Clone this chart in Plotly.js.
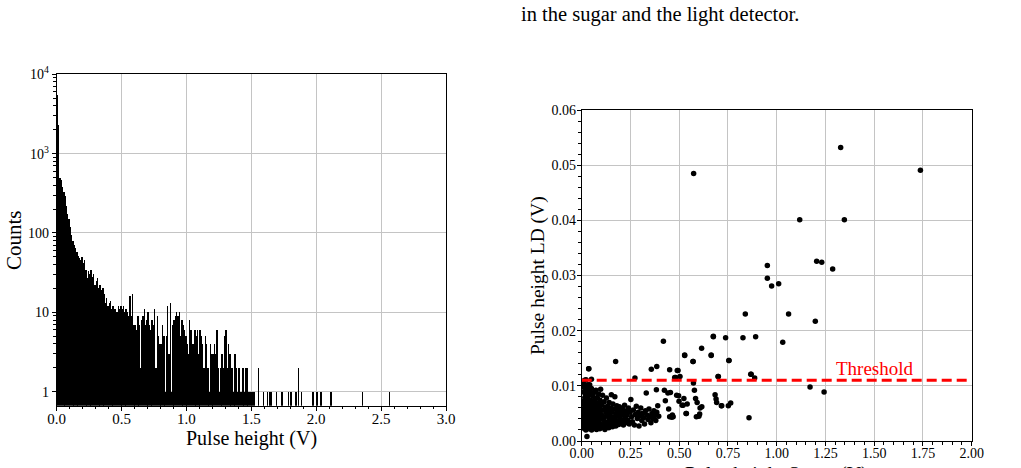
<!DOCTYPE html>
<html>
<head>
<meta charset="utf-8">
<script src="https://cdn.plot.ly/plotly-3.0.1.min.js"></script>
<style>
  html, body { margin: 0; padding: 0; background: #fff; }
  #chart { width: 1021px; height: 468px; }
</style>
</head>
<body>
<div id="chart"></div>
<script>
// ---- Pulse-height spectrum (left panel) ----
// Counts per 0.01 V bin, starting at 0 V
const binWidth = 0.01;
const binCounts = [
  5500, 2300, 500, 470, 380, 330, 290, 220, 175, 150,
  118, 95, 80, 70, 64, 58, 52, 49, 45, 50,
  42, 46, 34, 27, 33, 30, 34, 28, 30, 22,
  25, 27, 20, 22, 19, 20, 17, 13, 15, 12,
  13, 14, 11, 12, 11, 11, 10, 12, 11, 12,
  11, 12, 10, 11, 10, 9, 16, 9, 17, 7,
  7, 6, 9, 7, 2, 8, 9, 11, 7, 8,
  10, 7, 6, 8, 7, 11, 2, 9, 5, 4,
  4, 7, 5, 1, 5, 12, 3, 13, 1, 7,
  8, 9, 10, 9, 10, 5, 8, 7, 6, 5,
  4, 3, 8, 6, 4, 4, 6, 5, 6, 3,
  6, 5, 4, 2, 5, 4, 2, 1, 4, 3,
  3, 4, 3, 6, 2, 1, 2, 3, 2, 5,
  6, 2, 4, 3, 2, 2, 1, 3, 2, 1,
  2, 1, 1, 2, 1, 2, 2, 1, 1, 1,
  1, 1, 1, 0, 0
];
// Isolated high-energy events (bin centre in V, counts)
const tailPulse  = [1.555, 1.595, 1.625, 1.645, 1.655, 1.695, 1.735, 1.785, 1.805,
                    1.845, 1.865, 1.885, 1.975, 2.005, 2.035, 2.115, 2.355, 2.565];
const tailCounts = [2, 1, 1, 1, 1, 1, 1, 1, 1, 1, 2, 1, 1, 1, 1, 1, 1, 1];

const countTickVals = [1, 10, 100, 1000, 10000];
const countTickText = ['1', '10', '100', '10<sup>3</sup>', '10<sup>4</sup>'];

// ---- Sugar vs light-detector pulse heights (right panel) ----
const sugarV = [
  // dense low-energy cluster
  0.005, 0.006, 0.007, 0.008, 0.009, 0.010, 0.011, 0.012, 0.013, 0.014,
  0.015, 0.016, 0.017, 0.018, 0.019, 0.020, 0.021, 0.022, 0.023, 0.024,
  0.025, 0.026, 0.027, 0.028, 0.029, 0.030, 0.031, 0.032, 0.033, 0.034,
  0.035, 0.036, 0.037, 0.038, 0.039, 0.040, 0.041, 0.042, 0.043, 0.044,
  0.045, 0.046, 0.047, 0.048, 0.050, 0.051, 0.052, 0.053, 0.055, 0.056,
  0.057, 0.058, 0.060, 0.061, 0.062, 0.064, 0.065, 0.066, 0.068, 0.069,
  0.070, 0.072, 0.073, 0.074, 0.076, 0.077, 0.078, 0.080, 0.081, 0.083,
  0.084, 0.085, 0.087, 0.088, 0.090, 0.091, 0.093, 0.094, 0.095, 0.097,
  0.098, 0.099, 0.015, 0.050, 0.010, 0.030, 0.022,
  0.101, 0.103, 0.105, 0.107, 0.109, 0.111, 0.113, 0.115, 0.117, 0.119,
  0.121, 0.123, 0.125, 0.127, 0.129, 0.131, 0.133, 0.135, 0.137, 0.139,
  0.141, 0.143, 0.145, 0.148, 0.150, 0.152, 0.154, 0.156, 0.158, 0.160,
  0.163, 0.165, 0.167, 0.170, 0.172, 0.175, 0.177, 0.180, 0.182, 0.185,
  0.188, 0.190, 0.193, 0.196, 0.199, 0.202, 0.205, 0.208, 0.211, 0.214,
  0.217, 0.220, 0.223, 0.226, 0.229, 0.232, 0.236, 0.240, 0.244, 0.248,
  0.252, 0.256,
  0.260, 0.265, 0.270, 0.275, 0.280, 0.285, 0.290, 0.294, 0.298, 0.303,
  0.308, 0.312, 0.318, 0.322, 0.327, 0.331, 0.335, 0.340, 0.345, 0.350,
  0.355, 0.360, 0.365, 0.370, 0.375, 0.380, 0.383, 0.385, 0.390, 0.395,
  // mid-range events
  0.419, 0.424, 0.429, 0.442, 0.446, 0.451, 0.455, 0.462, 0.465, 0.469,
  0.477, 0.482, 0.487, 0.494, 0.497, 0.499, 0.504, 0.515, 0.520, 0.524,
  0.528, 0.535, 0.537, 0.541, 0.571, 0.573, 0.578, 0.584, 0.588, 0.592,
  0.601, 0.605, 0.607, 0.615, 0.616, 0.664, 0.675, 0.684, 0.689, 0.692,
  0.699, 0.716, 0.718, 0.738, 0.752, 0.755, 0.764, 0.827, 0.839, 0.858,
  0.867, 0.887, 0.892, 0.952, 0.952, 0.974, 1.010, 1.031, 1.061, 1.118,
  1.171, 1.198, 1.205, 1.231, 1.243, 1.287, 1.328, 1.347, 1.737, 0.574,
  0.174, 0.036, 0.273, 0.357, 0.385, 0.451, 0.490, 0.528, 0.571, 0.664,
  0.675, 0.701, 0.755, 0.869
];
const ldV = [
  0.0045, 0.0072, 0.0031, 0.0058, 0.0089, 0.0023, 0.0051, 0.0066, 0.0038, 0.0097,
  0.0027, 0.0079, 0.0048, 0.0061, 0.0035, 0.0085, 0.0020, 0.0055, 0.0070, 0.0042,
  0.0092, 0.0030, 0.0008, 0.0064, 0.0076, 0.0025, 0.0049, 0.0102, 0.0037, 0.0082,
  0.0058, 0.0131, 0.0022, 0.0068, 0.0044, 0.0090, 0.0102, 0.0033, 0.0074, 0.0053,
  0.0027, 0.0062, 0.0086, 0.0040, 0.0095, 0.0020, 0.0057, 0.0071, 0.0034, 0.0047,
  0.0081, 0.0026, 0.0065, 0.0052, 0.0039, 0.0088, 0.0023, 0.0060, 0.0075, 0.0043,
  0.0031, 0.0055, 0.0092, 0.0067, 0.0021, 0.0048, 0.0036, 0.0079, 0.0059, 0.0027,
  0.0069, 0.0044, 0.0085, 0.0033, 0.0052, 0.0064, 0.0022, 0.0074, 0.0040, 0.0094,
  0.0057, 0.0030, 0.0110, 0.0112, 0.0103, 0.0098, 0.0111,
  0.0048, 0.0066, 0.0025, 0.0083, 0.0039, 0.0056, 0.0030, 0.0071, 0.0044, 0.0021,
  0.0061, 0.0035, 0.0052, 0.0078, 0.0027, 0.0045, 0.0063, 0.0033, 0.0055, 0.0024,
  0.0070, 0.0041, 0.0049, 0.0029, 0.0060, 0.0084, 0.0037, 0.0053, 0.0026, 0.0067,
  0.0044, 0.0032, 0.0058, 0.0080, 0.0040, 0.0027, 0.0050, 0.0064, 0.0035, 0.0046,
  0.0057, 0.0030, 0.0062, 0.0041, 0.0053, 0.0034, 0.0047, 0.0059, 0.0038, 0.0029,
  0.0051, 0.0065, 0.0043, 0.0033, 0.0055, 0.0047, 0.0038, 0.0060, 0.0031, 0.0052,
  0.0075, 0.0044,
  0.0035, 0.0056, 0.0029, 0.0048, 0.0063, 0.0041, 0.0052, 0.0027, 0.0046, 0.0060,
  0.0037, 0.0050, 0.0042, 0.0031, 0.0055, 0.0087, 0.0047, 0.0039, 0.0058, 0.0044,
  0.0033, 0.0050, 0.0041, 0.0055, 0.0046, 0.0037, 0.0093, 0.0052, 0.0064, 0.0045,
  0.0181, 0.0092, 0.0073, 0.0087, 0.0058, 0.0044, 0.0088, 0.0043, 0.0047, 0.0044,
  0.0115, 0.0115, 0.0083, 0.0128, 0.0082, 0.0072, 0.0117, 0.0065, 0.0065, 0.0077,
  0.0155, 0.0050, 0.0050, 0.0067, 0.0144, 0.0105, 0.0092, 0.0077, 0.0044, 0.0070,
  0.0045, 0.0049, 0.0060, 0.0168, 0.0062, 0.0155, 0.0189, 0.0084, 0.0076, 0.0070,
  0.0117, 0.0064, 0.0064, 0.0187, 0.0064, 0.0146, 0.0069, 0.0187, 0.0230, 0.0042,
  0.0121, 0.0114, 0.0189, 0.0318, 0.0295, 0.0281, 0.0285, 0.0179, 0.0230, 0.0401,
  0.0098, 0.0217, 0.0326, 0.0324, 0.0089, 0.0312, 0.0532, 0.0401, 0.0491, 0.0485,
  0.0144, 0.0131, 0.0114, 0.0130, 0.0135, 0.0129, 0.0128, 0.0156, 0.0144, 0.0156,
  0.0190, 0.0117, 0.0146, 0.0121
];
const thresholdLD = 0.011;

// ---- build traces ----
const histX = binCounts.map((_, i) => (i + 0.5) * binWidth).concat(tailPulse);
const histY = binCounts.map(c => (c > 0 ? c : null)).concat(tailCounts);

const serif = 'Liberation Serif, Times New Roman, serif';
const gridCol = '#c4c4c4';

const traces = [
  {
    // bars drawn slightly wider than a bin so adjacent bins close up without hairline gaps
    type: 'bar', x: histX, y: histY, width: binWidth * 1.15,
    xaxis: 'x', yaxis: 'y',
    marker: { color: '#000', line: { width: 0 } },
    hoverinfo: 'skip', showlegend: false
  },
  {
    type: 'scatter', mode: 'markers', x: sugarV, y: ldV,
    xaxis: 'x2', yaxis: 'y2',
    marker: { color: '#000', size: 5.5, line: { width: 0 } },
    showlegend: false
  },
  {
    type: 'scatter', mode: 'lines', x: [0, 2], y: [thresholdLD, thresholdLD],
    xaxis: 'x2', yaxis: 'y2',
    line: { color: '#ff0000', width: 3, dash: '10px,5px' },
    showlegend: false
  }
];

const W = 1021, H = 468;
const px = v => v / W;
const py = v => 1 - v / H;

const minorLog = [];
[1, 10, 100, 1000].forEach(d => { for (let k = 2; k <= 9; k++) minorLog.push(k * d); });

const axisCommon = {
  showline: true, linecolor: '#000', linewidth: 1, mirror: true,
  ticks: 'outside', ticklen: 4, tickwidth: 1, tickcolor: '#000',
  showgrid: true, gridcolor: gridCol, gridwidth: 1,
  zeroline: false,
  tickfont: { family: serif, size: 15, color: '#000' }
};

const layout = {
  width: W, height: H,
  margin: { l: 0, r: 0, t: 0, b: 0 },
  paper_bgcolor: '#fff', plot_bgcolor: '#fff',
  bargap: 0,
  font: { family: serif, color: '#000' },
  xaxis: Object.assign({}, axisCommon, {
    domain: [px(56.7), px(446)], anchor: 'y',
    range: [0, 3], tick0: 0, dtick: 0.5, tickformat: '.1f',
    ticklabelstandoff: -5,
    minor: { ticks: 'outside', ticklen: 2.5, dtick: 0.1, tickcolor: '#000', showgrid: false }
  }),
  yaxis: Object.assign({}, axisCommon, {
    domain: [py(405.7), py(74.3)], anchor: 'x',
    type: 'log', range: [-0.177, 4],
    tickmode: 'array', tickvals: countTickVals, ticktext: countTickText,
    tickfont: { family: serif, size: 14, color: '#000' },
    minor: { ticks: 'outside', ticklen: 2.5, tickvals: minorLog, tickcolor: '#000', showgrid: false }
  }),
  xaxis2: Object.assign({}, axisCommon, {
    domain: [px(581.7), px(971.7)], anchor: 'y2',
    range: [0, 2], tick0: 0, dtick: 0.25, tickformat: '.2f',
    ticklabelstandoff: -5,
    tickfont: { family: serif, size: 14, color: '#000' },
    minor: { ticks: 'outside', ticklen: 2.5, dtick: 0.05, tickcolor: '#000', showgrid: false }
  }),
  yaxis2: Object.assign({}, axisCommon, {
    domain: [py(441), py(110)], anchor: 'x2',
    range: [0, 0.06], tick0: 0, dtick: 0.01, tickformat: '.2f',
    ticklabelstandoff: -2,
    tickfont: { family: serif, size: 14, color: '#000' },
    minor: { ticks: 'outside', ticklen: 2.5, dtick: 0.002, tickcolor: '#000', showgrid: false }
  }),
  annotations: [
    { text: 'in the sugar and the light detector.', xref: 'paper', yref: 'paper',
      x: px(519), y: py(14), xanchor: 'left', yanchor: 'middle', showarrow: false,
      font: { family: serif, size: 20.5, color: '#000' } },
    { text: 'Pulse height (V)', xref: 'paper', yref: 'paper',
      x: px(251), y: py(438), xanchor: 'center', yanchor: 'middle', showarrow: false,
      font: { family: serif, size: 20, color: '#000' } },
    { text: 'Counts', xref: 'paper', yref: 'paper', textangle: -90,
      x: px(14), y: py(240), xanchor: 'center', yanchor: 'middle', showarrow: false,
      font: { family: serif, size: 21, color: '#000' } },
    { text: 'Pulse height LD (V)', xref: 'paper', yref: 'paper', textangle: -90,
      x: px(538), y: py(276), xanchor: 'center', yanchor: 'middle', showarrow: false,
      font: { family: serif, size: 19.5, color: '#000' } },
    { text: 'Pulse height Sugar (V)', xref: 'paper', yref: 'paper',
      x: px(776), y: py(461), xanchor: 'center', yanchor: 'top', showarrow: false,
      font: { family: serif, size: 20, color: '#000' } },
    { text: 'Threshold', xref: 'x2', yref: 'y2',
      x: 1.505, y: thresholdLD, xanchor: 'center', yanchor: 'bottom', yshift: -1,
      showarrow: false, font: { family: serif, size: 19, color: '#ff0000' } }
  ]
};

Plotly.newPlot('chart', traces, layout, { displayModeBar: false, staticPlot: true });
</script>
</body>
</html>
